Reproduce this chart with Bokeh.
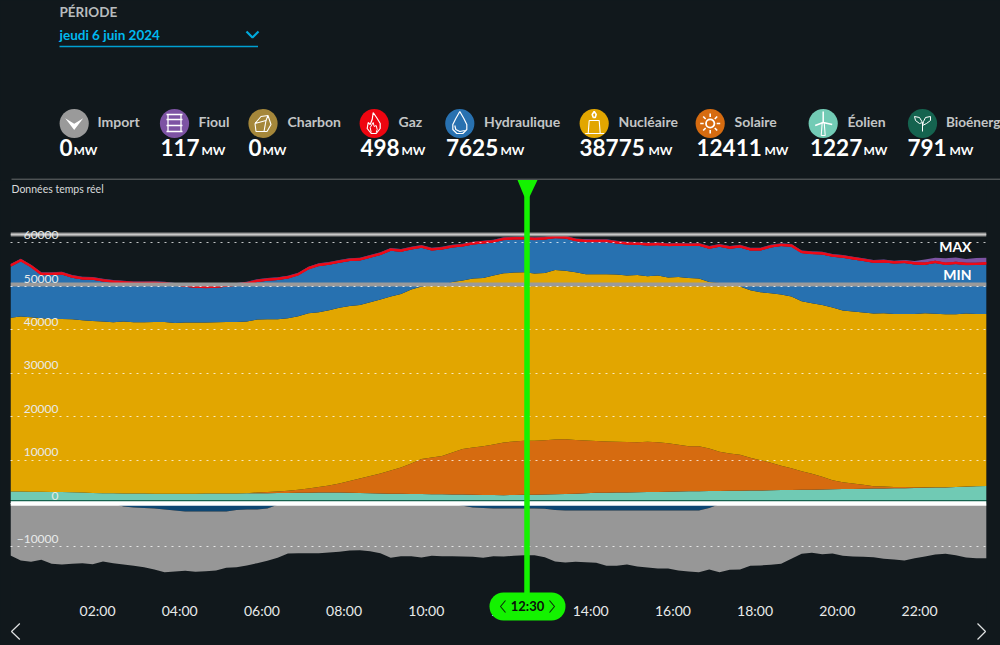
import numpy as np
from bokeh.plotting import figure
from bokeh.layouts import column
from bokeh.models import Range1d, LinearAxis, FixedTicker, Grid
from bokeh.core.properties import value
from bokeh.embed import file_html
from bokeh.resources import INLINE

# ---- data (MW, one value every 15 minutes from 00:00 to 23:45) ----
bioenergy = [800,800,795,795,790,790,790,785,785,790,790,795,795,790,790,785,785,790,790,795,
             795,790,790,790,785,785,790,790,795,795,790,790,785,790,790,795,795,790,790,790,
             785,785,790,790,790,795,795,790,790,790,791,790,790,785,785,790,790,795,795,790,
             790,790,785,790,790,790,795,795,790,790,785,785,790,790,795,790,790,790,785,785,
             790,790,795,795,790,790,785,790,790,795,790,790,785,790,790,790]
wind = [1980,1960,1930,1900,1860,1830,1780,1720,1660,1590,1560,1530,1510,1490,1470,1450,1450,1460,1470,1490,
        1500,1520,1540,1560,1580,1600,1630,1650,1680,1700,1730,1750,1730,1680,1630,1580,1530,1480,1450,1420,
        1390,1360,1330,1300,1270,1240,1190,1160,1130,1150,1227,1230,1260,1340,1400,1480,1560,1680,1700,1720,
        1760,1800,1840,1880,1920,1960,2000,2050,2080,2110,2130,2150,2180,2210,2250,2290,2330,2370,2400,2440,
        2480,2520,2560,2600,2640,2670,2700,2740,2790,2830,2870,2900,3000,3090,3170,3220]
solar = [0,0,0,0,0,0,0,0,0,0,0,0,0,0,0,0,0,0,0,0,
         0,0,0,30,170,260,350,490,690,970,1280,1610,2090,2710,3340,3960,4590,5330,6050,7000,
         8060,8440,8810,9650,10480,10860,11210,11630,12120,12330,12411,12410,12520,12600,12610,12340,12150,11910,11780,11710,
         11600,11520,11590,11440,11170,10760,10400,10350,9790,9000,8590,8270,7550,6970,6330,5600,5010,4280,3650,2920,
         2100,1600,1260,920,560,460,340,250,180,120,90,60,30,10,0,0]
nuclear = [39950,40270,40140,39930,39840,39860,39840,39650,39580,39490,39350,39540,39400,39420,39540,39560,39330,39400,39380,39350,
           39420,39490,39470,39490,39790,39740,39630,39700,39930,40320,40200,40300,40430,40300,39950,39970,40020,40020,39950,40020,
           39680,39560,39380,39260,38760,38870,38730,38870,38940,38870,38775,38480,38500,39030,38800,38590,38250,38360,38480,38460,
           38300,38500,38070,38340,38110,38640,38730,38570,38340,38870,38870,38710,38550,38640,39010,39400,39490,39100,39240,39560,
           39720,39490,39560,39630,39720,39860,39810,39860,39880,40020,39910,39790,39740,39810,39680,39630]
hydro = [11780,12700,11480,9960,10100,10240,9570,9410,9480,9250,9110,8790,8810,8810,8720,8630,8560,8260,8030,7960,
         7960,8100,8330,8560,8650,8880,9040,9180,9410,10100,10650,10510,10370,10330,10240,10260,10260,10560,9710,9250,
         8950,8100,8170,7940,7870,7870,7940,7640,7660,7640,7625,7730,7710,7340,7410,7200,7430,7430,7430,7180,
         7180,6950,7110,7040,7270,7180,7340,7570,7640,8330,8260,9020,9180,9640,10560,11180,11480,11110,11340,11620,
         11710,12170,12010,11870,11710,11710,11620,11710,11390,11180,11710,11390,11570,11180,11250,11390]
gas = [520,510,510,500,500,510,500,500,490,490,500,500,490,490,500,490,490,500,490,490,
       500,490,490,500,500,510,510,500,500,510,510,500,500,510,500,500,510,500,500,490,
       500,500,490,500,490,500,500,490,500,490,498,500,490,500,490,500,490,500,490,500,
       490,500,490,490,500,490,500,490,500,490,500,500,490,500,490,500,500,490,500,490,
       500,490,500,500,490,500,490,500,510,500,510,500,510,500,510,500]
fuel = [110,110,115,110,115,120,115,110,115,115,120,115,110,115,120,115,110,115,120,115,
        110,115,115,120,115,110,115,120,115,115,120,115,110,115,120,115,115,110,115,120,
        115,115,120,115,110,115,120,115,115,120,117,115,120,115,110,115,120,115,115,110,
        115,120,115,115,120,115,110,115,120,115,115,120,115,110,115,120,115,115,120,115,
        110,115,120,120,130,140,150,180,300,690,690,990,990,920,1080,1050]
pumping = [0,0,0,0,0,0,0,0,0,0,0,690,920,1040,1150,1380,1610,1840,1840,1840,
           1840,1840,1500,1380,1380,1150,300,0,0,0,0,0,0,0,0,0,0,0,0,0,
           0,0,0,0,500,920,1040,1150,1150,1150,1150,1150,1200,1500,1610,1610,1610,1610,1610,1610,
           1610,1610,1610,1610,1610,1610,1610,1610,1040,200,0,0,0,0,0,0,0,0,0,0,
           0,0,0,0,0,0,0,0,0,0,0,0,0,0,0,0]
export = [11960,13110,13410,12950,13870,14030,13870,13730,13960,13340,13730,13340,13410,13610,14030,14420,14030,13640,13870,13730,
          13570,12950,13150,12880,12350,12030,12190,11500,11430,11430,11430,11270,11110,10810,10740,10970,11430,12490,12120,12120,
          12420,12030,12120,12120,11690,11340,11450,10970,11040,10880,10740,10740,11150,11840,11960,11800,11890,12030,12720,12720,
          12420,12880,13110,13340,13340,13800,14030,14190,14140,15600,15250,15180,14330,14260,14100,13870,12720,11570,11340,11660,
          11500,12030,12190,12260,12350,12720,12880,13110,12580,12190,11730,11570,11890,12420,12580,12580]

day_max = 61910
day_min = 50400
y_ticks = [-10000, 0, 10000, 20000, 30000, 40000, 50000, 60000]
x_ticks = [2, 4, 6, 8, 10, 12, 14, 16, 18, 20, 22]
x_labels = {h: f"{h:02d}:00" for h in x_ticks}
cursor_label = "12:30"
sources = ["Import", "Fioul", "Charbon", "Gaz", "Hydraulique", "Nucléaire", "Solaire", "Éolien", "Bioénerg"]
source_values = [0, 117, 0, 498, 7625, 38775, 12411, 1227, 791]
source_colors = ["#9a9a9a", "#7d53a3", "#a5873a", "#ee0510", "#2871b0", "#e2a600", "#d66b10", "#72cbb5", "#15634f"]

# ---- layout constants (page pixels) ----
BG = "#11181c"
FONT = "Lato"
icon_x = [73.7, 174, 262.5, 373.7, 459.3, 593.7, 709.7, 822.7, 922]
name_x = [97, 198, 287, 398, 483.5, 618, 734, 847, 945.5]
val_x = [59, 160, 248, 360, 445.5, 579, 696, 809.5, 907]
unit_x = [73, 201, 262, 401, 500, 648, 764, 863, 949]
ICON_Y = 123

# ---- header ----
h = figure(width=1000, height=180, x_range=Range1d(0, 1000), y_range=Range1d(180, 0),
           x_axis_location=None, y_axis_location=None, toolbar_location=None,
           output_backend="svg", min_border=0, background_fill_color=BG, border_fill_color=BG,
           outline_line_color=None, frame_align=False)
h.grid.visible = False

def htext(x, y, t, size, color, style="bold", align="left"):
    h.text([x], [y], text=[t], text_font=value(FONT), text_font_size=f"{size}px",
           text_font_style=style, text_color=color, text_align=align, text_baseline="middle")

htext(59, 11.5, "PÉRIODE", 13.5, "#b9bcbe")
htext(59, 34, "jeudi 6 juin 2024", 13.5, "#00b9ef")
h.line([246, 252, 258], [31, 37, 31], line_color="#00a9dc", line_width=2.2)
h.line([59, 257.5], [46, 46], line_color="#00a0d2", line_width=1.5)
h.line([11, 1000], [178.7, 178.7], line_color="#6a6d6f", line_width=1)

h.circle(icon_x, [ICON_Y] * 9, radius=14.6, fill_color=source_colors, line_color=None)
for x, n in zip(name_x, sources):
    htext(x, 121, n, 13.6 if n == "Bioénerg" else 14, "#c3c5c6")
for x, ux, v in zip(val_x, unit_x, source_values):
    htext(x, 147, str(v), 22.5, "#ffffff")
    htext(ux, 149.5, "MW", 12, "#ffffff")

def icon(cx, pts, w=1.1, fill=False):
    xs = [cx + a for a, b in pts]
    ys = [ICON_Y + b for a, b in pts]
    if fill:
        h.patch(xs, ys, fill_color="#ffffff", line_color=None)
    else:
        h.line(xs, ys, line_color="#ffffff", line_width=w)

# import arrow
icon(icon_x[0], [(-9, -5.3), (0, 0.3), (9, -5.3), (0, 6.5)], fill=True)
# fuel barrel
c = icon_x[1]
for dy in (-9, -4, 2, 8):
    icon(c, [(-8, dy), (8, dy)], 1.5)
icon(c, [(-6.5, -9), (-6.5, 8)], 1.3)
icon(c, [(6.5, -9), (6.5, 8)], 1.3)
# coal
c = icon_x[2]
icon(c, [(-8, 0), (-2, -7), (5, -8), (8, 1), (4, 8), (-7, 8), (-8, 0), (3, -3), (5, -8)])
icon(c, [(3, -3), (1, 8)])
# flame
c = icon_x[3]
icon(c, [(-1, -11), (3, -5), (6, 0), (6, 5), (2, 10), (-3, 10), (-7, 5), (-6, -1), (-4, 1), (-2, -4), (-1, -11)], 1.2)
icon(c, [(-3, 9), (-4, 4), (-1, -1), (0, 3), (2, 2), (3, 6), (2, 9)], 1.0)
# drop
c = icon_x[4]
icon(c, [(0, -12), (4, -5), (7, 1), (7, 6), (3, 10), (-3, 10), (-7, 6), (-7, 1), (-4, -5), (0, -12)], 1.2)
icon(c, [(-5, 2), (-4, 6), (0, 8), (5, 7)], 1.2)
# nuclear tower
c = icon_x[5]
icon(c, [(-5, -3), (5, -3), (6, 10), (-6, 10), (-5, -3)], 1.1)
icon(c, [(-9, 10), (10, 10)], 1.1)
icon(c, [(-1, -6), (-2, -9), (0, -12), (2, -9), (1, -6), (-1, -6)], 1.6)
# sun
c = icon_x[6]
h.circle([c], [ICON_Y], radius=4.2, fill_color=None, line_color="#ffffff", line_width=1.8)
for a, b in [(-10, 0), (10, 0), (0, -10), (0, 10), (-7, -7), (7, -7), (-7, 7), (7, 7)]:
    icon(c, [(a * 0.65, b * 0.65), (a, b)], 1.6)
# wind turbine
c = icon_x[7]
icon(c, [(-2, 12), (-1, -1), (1, -1), (2, 12), (-2, 12)], 1.1)
icon(c, [(0, -1), (0, -12)], 1.5)
icon(c, [(0, -1), (9, 1)], 1.5)
icon(c, [(0, -1), (-8, 2)], 1.5)
# sprout
c = icon_x[8]
icon(c, [(0, 8), (0, -1), (-3, 0), (-7, -3), (-8, -7), (-3, -6), (0, -1)], 1.0)
icon(c, [(0, 2), (4, 0), (8, -3), (8, -7), (3, -6), (1, -2), (0, 2)], 1.0)

# ---- chart: frame spans page x 10..986, y 180..645 ----
PX_PER_HOUR = 41.1
MW_PER_PX = 230.15
ZERO_Y = 503
def sx(x):
    return (x - 10) / PX_PER_HOUR
def sy(y):
    return (ZERO_Y - y) * MW_PER_PX

p0_end = sx(986)
c = figure(width=1000, height=465, x_range=Range1d(0, p0_end), y_range=Range1d(sy(645), sy(180)),
           x_axis_location=None, y_axis_location=None, toolbar_location=None,
           output_backend="svg", min_border_left=10, min_border_right=14, min_border_top=0, min_border_bottom=0,
           background_fill_color=BG, border_fill_color=BG, outline_line_color=None, frame_align=False)
c.grid.visible = False

hours = np.arange(96) * 0.25
levels = np.cumsum([bioenergy, wind, solar, nuclear, hydro, gas, fuel], axis=0)
zero = np.zeros(96)
colors = ["#15634f", "#70cab4", "#d66b10", "#e2a600", "#2771b0", "#ee0a18", "#7d53a3"]
bottoms = [zero] + list(levels[:-1])
for b, t, col, in zip(bottoms, levels, colors):
    c.varea(hours, b, t, fill_color=col)
c.line(hours, levels[4] + np.array(gas) / 2, line_color="#ee0a18", line_width=2.4)

pump_low = -np.array(pumping, dtype=float)
export_low = pump_low - np.array(export)
c.varea(hours, zero, pump_low, fill_color="#0d4672")
c.varea(hours, pump_low, export_low, fill_color="#979797")

c.line([0, p0_end], [day_max, day_max], line_color="#8c8c8c", line_width=4)
c.line([0, p0_end], [day_max, day_max], line_color="#c9c9c9", line_width=1.5)
c.line([0, p0_end], [day_min, day_min], line_color="#9a9a9a", line_width=4)
c.line([0, p0_end], [0, 0], line_color="#ffffff", line_width=4.4)

c.add_layout(Grid(dimension=1, ticker=FixedTicker(ticks=y_ticks), grid_line_color="#ffffff", grid_line_alpha=0.75,
                  grid_line_dash="2 5", grid_line_width=1, level="guide"))

# tick labels sit a few pixels off their gridlines in the reference: separate label ranges
c.extra_y_ranges = {"ylab": Range1d(sy(645) - 1770, sy(180) - 1770)}
c.extra_x_ranges = {"xlab": Range1d(-0.117, p0_end - 0.117)}
ya = LinearAxis(y_range_name="ylab", ticker=FixedTicker(ticks=y_ticks), axis_line_color=None,
                major_tick_line_color=None, minor_tick_line_color=None, major_label_standoff=2,
                major_label_text_color="#e8eaea", major_label_text_font=FONT, major_label_text_font_size="12px",
                fixed_location=sx(66))
c.add_layout(ya, "left")
xa = LinearAxis(x_range_name="xlab", ticker=FixedTicker(ticks=x_ticks), axis_line_color=None,
                major_tick_line_color=None, minor_tick_line_color=None, major_label_standoff=1,
                major_label_overrides=x_labels,
                major_label_text_color="#e8eaea", major_label_text_font=FONT, major_label_text_font_size="14px",
                fixed_location=sy(594))
c.add_layout(xa, "below")

def ctext(x, y, t, size, color, style="normal", align="left"):
    r = c.text([sx(x)], [sy(y)], text=[t], text_font=value(FONT), text_font_size=f"{size}px",
               text_font_style=style, text_color=color, text_align=align, text_baseline="middle")
    r.level = "annotation"

ctext(11, 188.5, "Données temps réel", 10.5, "#d8dadb")
ctext(971, 246, "MAX", 14, "#ffffff", "bold", "right")
ctext(971, 274, "MIN", 14, "#ffffff", "bold", "right")

def cline(xs, ys, col, w, cap="butt"):
    r = c.line([sx(a) for a in xs], [sy(b) for b in ys], line_color=col, line_width=w, line_cap=cap)
    r.level = "annotation"

GREEN = "#14f200"
cline([526.5, 526.5], [185, 600], GREEN, 5.5)
tri = c.patch([sx(a) for a in (517, 537, 529.2, 523.8)], [sy(b) for b in (179.5, 179.5, 196, 196)],
              fill_color=GREEN, line_color=None)
tri.level = "annotation"
cline([503, 551], [606, 606], GREEN, 28, "round")
ctext(527, 605.5, cursor_label, 13, "#0a0f0a", "bold", "center")
cline([505, 500, 505], [600, 606, 612], "#0a2a0a", 1.1)
cline([549, 554, 549], [600, 606, 612], "#0a2a0a", 1.1)
cline([19.3, 11, 19.3], [623, 631, 639], "#dfe1e2", 1.2)
cline([977, 985, 977], [623, 631, 639], "#dfe1e2", 1.2)

p = column(h, c, spacing=0)
html = file_html(p, INLINE)
html = html.replace("<head>", f"<head><style>html,body{{background:{BG};overflow:hidden}}</style>", 1)
open("out.html", "w").write(html)
